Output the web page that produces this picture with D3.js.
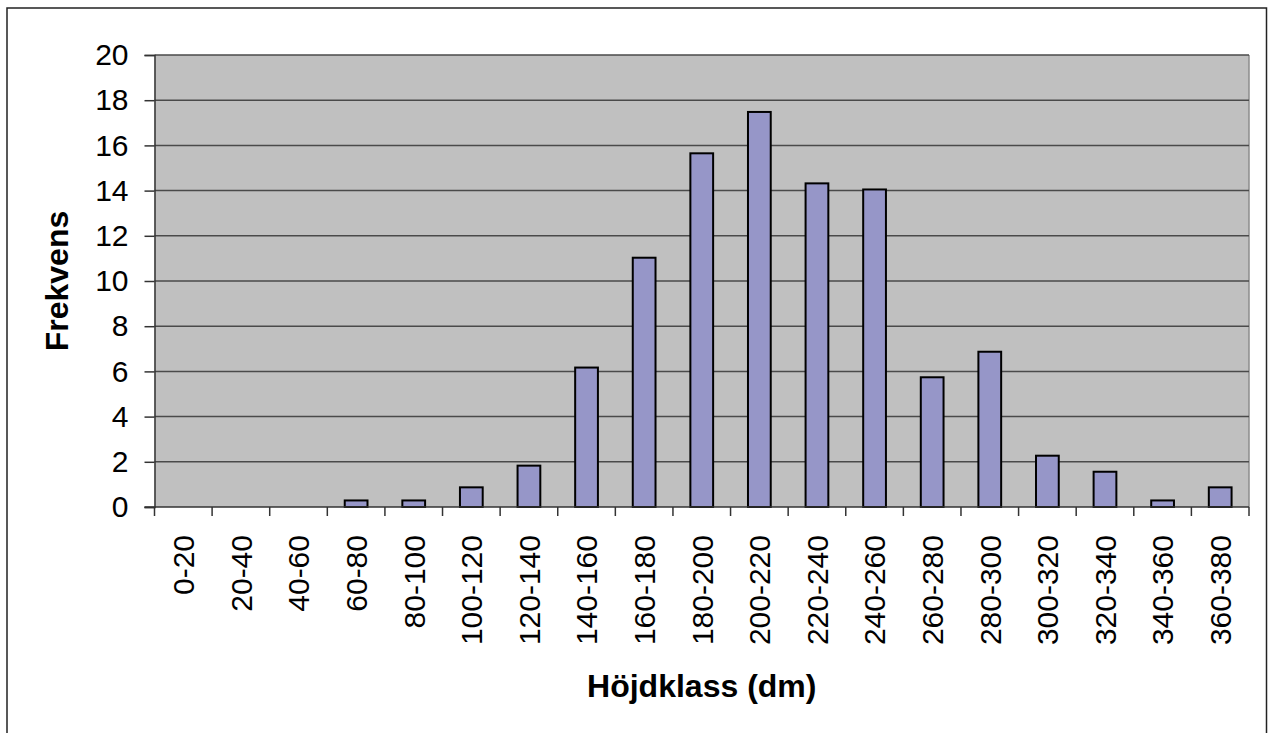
<!DOCTYPE html>
<html>
<head>
<meta charset="utf-8">
<script src="https://cdn.jsdelivr.net/npm/d3@7"></script>
<style>
  html, body { margin: 0; padding: 0; background: #fff; }
  svg { display: block; font-family: "Liberation Sans", Arial, sans-serif; }
</style>
</head>
<body>
<svg id="chart" width="1270" height="733"></svg>
<script>
// Height classes (dm) and their frequency in percent
const classes = ["0-20","20-40","40-60","60-80","80-100","100-120","120-140","140-160",
  "160-180","180-200","200-220","220-240","240-260","260-280","280-300","300-320",
  "320-340","340-360","360-380"];
const frequency = [0, 0, 0, 0.29, 0.29, 0.87, 1.83, 6.17, 11.03, 15.65, 17.48, 14.32,
  14.05, 5.74, 6.87, 2.27, 1.56, 0.29, 0.87];
const yTicks = [0, 2, 4, 6, 8, 10, 12, 14, 16, 18, 20];
const xTitle = "Höjdklass (dm)";
const yTitle = "Frekvens";

const svg = d3.select("#chart");
const plot = { left: 154.5, right: 1249, top: 55, bottom: 507 };

// outer chart frame
svg.append("rect")
  .attr("x", 7).attr("y", 8)
  .attr("width", 1259.5).attr("height", 740)
  .attr("fill", "#fff").attr("stroke", "#222").attr("stroke-width", 1.5);

const x = d3.scaleBand().domain(classes).range([plot.left, plot.right]).padding(0);
const y = d3.scaleLinear().domain([0, 20]).range([plot.bottom, plot.top]);

// plot area background
svg.append("rect")
  .attr("x", plot.left).attr("y", plot.top)
  .attr("width", plot.right - plot.left).attr("height", plot.bottom - plot.top)
  .attr("fill", "#c0c0c0");

// right edge of plot area
svg.append("line")
  .attr("x1", plot.right).attr("x2", plot.right)
  .attr("y1", plot.top).attr("y2", plot.bottom)
  .attr("stroke", "#8c8c8c").attr("stroke-width", 1.5);

// horizontal gridlines
svg.append("g")
  .selectAll("line")
  .data(yTicks.filter(d => d > 0))
  .join("line")
  .attr("x1", plot.left).attr("x2", plot.right)
  .attr("y1", d => y(d)).attr("y2", d => y(d))
  .attr("stroke", "#4a4a4a").attr("stroke-width", 1.5);

// bars
const barW = x.bandwidth() * 0.395;
svg.append("g")
  .selectAll("rect")
  .data(classes.map((c, i) => ({ c, v: frequency[i] })).filter(d => d.v > 0))
  .join("rect")
  .attr("x", d => x(d.c) + (x.bandwidth() - barW) / 2)
  .attr("y", d => y(d.v))
  .attr("width", barW)
  .attr("height", d => y(0) - y(d.v))
  .attr("fill", "#9696c8")
  .attr("stroke", "#000")
  .attr("stroke-width", 2);

// y axis
const yAxis = d3.axisLeft(y).tickValues(yTicks).tickSize(10).tickPadding(16)
  .tickFormat(d3.format("d"));
const gy = svg.append("g").attr("transform", `translate(${plot.left},0)`).call(yAxis);
gy.select(".domain").attr("stroke", "#333").attr("stroke-width", 1.5);
gy.selectAll(".tick line").attr("stroke", "#333").attr("stroke-width", 1.5);
gy.selectAll(".tick text")
  .attr("font-size", 30).attr("fill", "#000")
  .attr("font-family", "'Liberation Sans', Arial, sans-serif");

// x axis: ticks on category boundaries, labels centred in each class
const gx = svg.append("g").attr("transform", `translate(0,${plot.bottom})`);
gx.append("line")
  .attr("x1", plot.left - 10).attr("x2", plot.right)
  .attr("stroke", "#333").attr("stroke-width", 1.5);
const bounds = classes.map(c => x(c)).concat([plot.right]);
gx.selectAll("line.tk")
  .data(bounds)
  .join("line")
  .attr("class", "tk")
  .attr("x1", d => d).attr("x2", d => d)
  .attr("y1", 0).attr("y2", 9)
  .attr("stroke", "#333").attr("stroke-width", 1.5);
gx.selectAll("text")
  .data(classes)
  .join("text")
  .attr("transform", d => `translate(${x(d) + x.bandwidth() / 2},28) rotate(-90)`)
  .attr("text-anchor", "end")
  .attr("dy", "0.36em")
  .attr("font-size", 30)
  .attr("fill", "#000")
  .text(d => d);

// axis titles
svg.append("text")
  .attr("x", (plot.left + plot.right) / 2).attr("y", 697)
  .attr("text-anchor", "middle")
  .attr("font-size", 32).attr("font-weight", "bold")
  .text(xTitle);

svg.append("text")
  .attr("transform", `translate(56,${(plot.top + plot.bottom) / 2}) rotate(-90)`)
  .attr("text-anchor", "middle")
  .attr("dy", "0.36em")
  .attr("font-size", 32).attr("font-weight", "bold")
  .text(yTitle);
</script>
</body>
</html>
